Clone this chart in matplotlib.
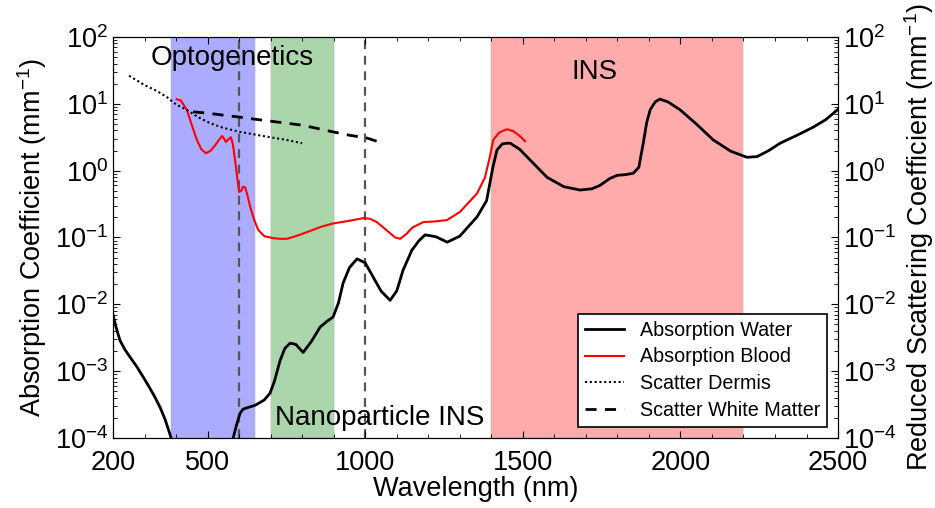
import matplotlib
matplotlib.use('Agg')
import matplotlib.pyplot as plt
import numpy as np

plt.rcParams['font.family'] = ['Liberation Sans', 'DejaVu Sans']
plt.rcParams['mathtext.default'] = 'regular'

## Water absorption (wavelength nm, log10 mu_a)
water_wl = [200, 210, 222, 238, 254, 275, 296, 315, 333, 350, 365, 381, 395,
            560, 581, 592, 603, 612, 624, 651, 680, 698, 712, 730, 745, 762, 780, 803,
            830, 857, 880, 898, 915, 930, 950, 974, 1000, 1025, 1050, 1079, 1100,
            1120, 1148, 1170, 1190, 1225, 1260, 1300, 1355, 1385, 1405, 1418, 1435, 1450,
            1460, 1490, 1523, 1550, 1577, 1630, 1682, 1720, 1745, 1775, 1799, 1825,
            1850, 1868, 1882, 1893, 1904, 1920, 1935, 1960, 1999, 2050, 2104, 2160,
            2211, 2243, 2280, 2316, 2370, 2421, 2460, 2506]
water_log = [-2.16, -2.35, -2.54, -2.68, -2.79, -2.93, -3.09, -3.24, -3.39, -3.55, -3.72, -3.95, -4.2,
             -4.2, -4.0, -3.8, -3.63, -3.57, -3.55, -3.51, -3.43, -3.33, -3.15, -2.84, -2.66, -2.58, -2.6, -2.72,
             -2.55, -2.34, -2.25, -2.19, -1.98, -1.68, -1.45, -1.32, -1.38, -1.59, -1.80, -1.94, -1.80,
             -1.49, -1.19, -1.05, -0.96, -0.99, -1.07, -0.98, -0.69, -0.45, 0.05, 0.31, 0.40, 0.41,
             0.41, 0.32, 0.16, 0.03, -0.10, -0.24, -0.29, -0.27, -0.22, -0.12, -0.07, -0.06,
             -0.04, 0.05, 0.41, 0.72, 0.91, 1.03, 1.07, 1.03, 0.91, 0.70, 0.46, 0.29,
             0.20, 0.21, 0.30, 0.41, 0.53, 0.65, 0.76, 0.94]

## Blood absorption
blood_wl = [402, 415, 434, 450, 466, 480, 495, 510, 524, 536, 546, 552, 558, 566, 574, 580,
            587, 594, 600, 607, 612, 619, 626, 635, 648, 661, 680, 708, 730, 751, 780,
            815, 860, 898, 950, 994, 1015, 1037, 1070, 1095, 1111, 1130, 1150, 1184, 1220,
            1259, 1300, 1355, 1380, 1395, 1406, 1425, 1450, 1470, 1490, 1507]
blood_log = [1.07, 1.05, 0.91, 0.68, 0.46, 0.32, 0.26, 0.30, 0.38, 0.46, 0.52, 0.48, 0.43, 0.47, 0.50, 0.40,
             0.16, -0.1, -0.32, -0.30, -0.24, -0.25, -0.36, -0.54, -0.74, -0.89, -0.98, -1.01, -1.02, -1.02, -0.98,
             -0.92, -0.84, -0.79, -0.75, -0.71, -0.72, -0.77, -0.90, -1.0, -1.02, -0.95, -0.85, -0.77, -0.76,
             -0.74, -0.62, -0.34, -0.10, 0.20, 0.46, 0.57, 0.62, 0.59, 0.52, 0.44]

## Scattering
dermis_wl = [251, 300, 340, 371, 400, 434, 470, 508, 550, 603, 650, 698, 750, 800]
dermis_log = [1.42, 1.28, 1.19, 1.10, 0.99, 0.91, 0.80, 0.71, 0.64, 0.58, 0.54, 0.50, 0.46, 0.41]
white_wl = [454, 500, 550, 603, 650, 700, 751, 800, 850, 898, 950, 1004, 1057]
white_log = [0.88, 0.86, 0.83, 0.80, 0.77, 0.74, 0.71, 0.68, 0.63, 0.58, 0.53, 0.49, 0.41]

## Bands
bands = [(385, 650, 'blue'), (700, 900, 'green'), (1400, 2200, 'red')]
vlines = [600, 1000]
ytick_vals = [1e-4, 1e-3, 1e-2, 1e-1, 1, 10, 100]
ytick_text = ['$10^{-4}$', '$10^{-3}$', '$10^{-2}$', '$10^{-1}$', '$10^{0}$', '$10^{1}$', '$10^{2}$']

fig = plt.figure(figsize=(9.35, 5.08), dpi=100)
ax = fig.add_axes([0.1209, 0.1378, 0.7754, 0.7894])

for lo, hi, c in bands:
    ax.axvspan(lo, hi, facecolor=c, alpha=0.33, edgecolor='#b0b0b0', lw=1.2, zorder=0)
for v in vlines:
    ax.axvline(v, color='#555555', ls=(0, (4, 3)), lw=1.6, zorder=1)

ax.plot(water_wl, 10 ** np.array(water_log), color='black', lw=2, label='Absorption Water')
ax.plot(blood_wl, 10 ** np.array(blood_log), color='red', lw=1.5, label='Absorption Blood')
ax.plot(dermis_wl, 10 ** np.array(dermis_log), color='black', ls=(0, (1, 1.3)), lw=1.5, label='Scatter Dermis')
ax.plot(white_wl, 10 ** np.array(white_log), color='black', ls=(0, (4, 3)), lw=2, label='Scatter White Matter')

ax.set_yscale('log')
ax.set_ylim(1e-4, 1e2)
ax.set_xlim(200, 2500)
ax.set_xticks([200, 500, 1000, 1500, 2000, 2500])
ax.set_xticks(np.arange(300, 2500, 100), minor=True)
ax.set_yticks(ytick_vals)
ax.set_yticklabels(ytick_text)
ax.tick_params(which='both', direction='in', top=True, labelsize=19.5)
ax.tick_params(axis='x', pad=9)
ax.tick_params(which='major', length=5)
ax.tick_params(which='minor', length=3)
ax.set_xlabel('Wavelength (nm)', fontsize=19.5, labelpad=0)
ax.set_ylabel('Absorption Coefficient (mm$^{-1}$)', fontsize=19.5, labelpad=4)

ax2 = ax.twinx()
ax2.set_yscale('log')
ax2.set_ylim(1e-4, 1e2)
ax2.set_yticks(ytick_vals)
ax2.set_yticklabels(ytick_text)
ax2.tick_params(which='both', direction='in', labelsize=19.5)
ax2.tick_params(which='major', length=5)
ax2.tick_params(which='minor', length=3)
ax2.set_ylabel('Reduced Scattering Coefficient (mm$^{-1}$)', fontsize=19.5, labelpad=4)

ax.text(318, 48, 'Optogenetics', fontsize=20, va='center')
ax.text(1729, 30, 'INS', fontsize=20, va='center', ha='center')
ax.text(714, 2.0e-4, 'Nanoparticle INS', fontsize=20, va='center')

leg = ax.legend(loc='lower right', fontsize=14.2, fancybox=False, framealpha=1,
                edgecolor='black', handlelength=2.0, borderaxespad=0.55, labelspacing=0.4,
                borderpad=0.35)
leg.get_frame().set_linewidth(1.2)

plt.savefig('out.png', dpi=100)
